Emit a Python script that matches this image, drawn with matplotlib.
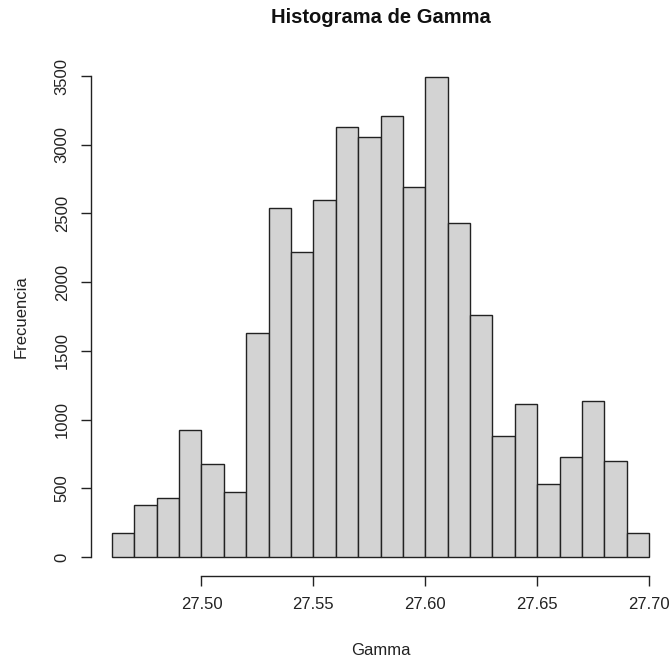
import numpy as np
import matplotlib.pyplot as plt

plt.rcParams['font.family'] = ['Liberation Sans', 'DejaVu Sans']

# bin edges and counts
bin_start = 27.46
bin_width = 0.01
counts = [172, 378, 432, 927, 680, 473, 1632, 2537, 2219, 2598, 3131, 3054,
          3207, 2692, 3495, 2428, 1763, 880, 1111, 534, 726, 1133, 701, 178]
edges = bin_start + bin_width * np.arange(len(counts) + 1)

x_ticks = [27.50, 27.55, 27.60, 27.65, 27.70]
x_tick_labels = ['27.50', '27.55', '27.60', '27.65', '27.70']
y_ticks = [0, 500, 1000, 1500, 2000, 2500, 3000, 3500]

W, H = 670, 660
fig = plt.figure(figsize=(W / 100, H / 100), dpi=100)
ax = fig.add_axes([90.5 / W, (H - 576.2) / H, 580 / W, (576.2 - 56.8) / H])

ax.bar(edges[:-1], counts, width=bin_width, align='edge',
       color='#D3D3D3', edgecolor='#222222', linewidth=1.0)

# R-like limits: data range padded by 4%
xr = edges[-1] - edges[0]
ax.set_xlim(edges[0] - 0.04 * xr, edges[-1] + 0.04 * xr)
ax.set_ylim(-0.04 * 3500, 3500 * 1.04)

for s in ['top', 'right']:
    ax.spines[s].set_visible(False)
ax.spines['bottom'].set_bounds(x_ticks[0], x_ticks[-1])
ax.spines['left'].set_bounds(y_ticks[0], y_ticks[-1])
for s in ['bottom', 'left']:
    ax.spines[s].set_color('#222222')
    ax.spines[s].set_linewidth(1.0)

ax.set_xticks(x_ticks)
ax.set_xticklabels(x_tick_labels)
ax.set_yticks(y_ticks)
ax.set_yticklabels([str(v) for v in y_ticks], rotation=90, va='center')
ax.tick_params(direction='out', length=7, width=1.0, color='#222222',
               labelsize=12, labelcolor='#222222', pad=8)

ax.set_xlabel('Gamma', fontsize=12, color='#222222', labelpad=22)
ax.set_ylabel('Frecuencia', fontsize=12, color='#222222', labelpad=18.5)
ax.set_title('Histograma de Gamma', fontsize=14.5, fontweight='bold',
             color='#111111', pad=24)

fig.savefig('out.png', dpi=100)
